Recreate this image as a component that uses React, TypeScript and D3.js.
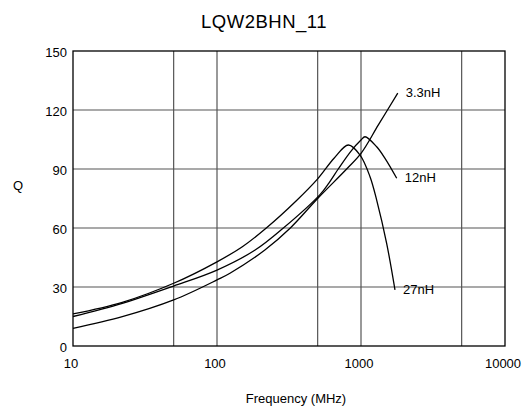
import React, { useEffect, useRef } from 'react'
import * as d3 from 'd3'

// Q vs frequency readings (MHz, Q) taken off the reference chart
const freq27 = [10, 22, 50, 100, 150, 220, 357, 500, 650, 817, 985, 1155, 1285, 1507, 1722]
const q27 = [16.3, 22.2, 31.9, 42.8, 50.5, 60, 74, 85, 95.5, 102.2, 97.1, 86.1, 74.2, 52.2, 28.5]

const freq12 = [10, 22, 50, 100, 184, 289, 519, 600, 695, 850, 1000, 1066, 1285, 1468, 1770]
const q12 = [15.0, 21.7, 30.5, 38.6, 48.8, 60, 77, 83, 90, 99, 104.7, 106.4, 101.3, 95.4, 85.3]

const freq33 = [10, 22, 50, 100, 123, 215, 323, 500, 795, 1000, 1320, 1800]
const q33 = [9.0, 14.9, 23.4, 33.6, 37, 48.8, 60, 75, 90, 97.9, 112.4, 128.6]

const seriesNames = ['3.3nH', '12nH', '27nH']
const seriesFreq = [freq33, freq12, freq27]
const seriesQ = [q33, q12, q27]

const xTicks = [10, 100, 1000, 10000]
const xGrid = [50, 100, 500, 1000, 5000]
const yTicks = [0, 30, 60, 90, 120, 150]
const yGrid = [30, 60, 90, 120]

const width = 522
const height = 407
const font = '"Liberation Sans", Arial, Helvetica, sans-serif'

const App: React.FC = () => {
  const svgRef = useRef<SVGSVGElement>(null)

  useEffect(() => {
    if (!svgRef.current) return
    const svg = d3.select(svgRef.current)
    svg.selectAll('*').remove()

    const margin = { top: 51, right: 17, bottom: 61, left: 73 }
    const x = d3
      .scaleLog()
      .domain([10, 10000])
      .range([margin.left, width - margin.right])
    const y = d3
      .scaleLinear()
      .domain([0, 150])
      .range([height - margin.bottom, margin.top])

    // grid
    svg
      .selectAll('.vgrid')
      .data(xGrid)
      .enter()
      .append('line')
      .attr('x1', (d) => x(d))
      .attr('x2', (d) => x(d))
      .attr('y1', y(0))
      .attr('y2', y(150))
      .attr('stroke', '#555')
      .attr('stroke-width', 1.2)

    svg
      .selectAll('.hgrid')
      .data(yGrid)
      .enter()
      .append('line')
      .attr('x1', x(10))
      .attr('x2', x(10000))
      .attr('y1', (d) => y(d))
      .attr('y2', (d) => y(d))
      .attr('stroke', '#555')
      .attr('stroke-width', 1.2)

    // frame
    svg
      .append('rect')
      .attr('x', x(10))
      .attr('y', y(150))
      .attr('width', x(10000) - x(10))
      .attr('height', y(0) - y(150))
      .attr('fill', 'none')
      .attr('stroke', '#000')
      .attr('stroke-width', 1.3)

    // curves
    const line = d3
      .line<[number, number]>()
      .x((d) => x(d[0]))
      .y((d) => y(d[1]))
      .curve(d3.curveCatmullRom.alpha(0.5))

    seriesNames.forEach((name, i) => {
      const pts: [number, number][] = seriesFreq[i].map((f, j) => [f, seriesQ[i][j]])
      svg
        .append('path')
        .attr('d', line(pts) || '')
        .attr('fill', 'none')
        .attr('stroke', '#000')
        .attr('stroke-width', 1.3)

      const last = pts[pts.length - 1]
      svg
        .append('text')
        .attr('x', x(last[0]) + 8)
        .attr('y', y(last[1]) + 4)
        .style('font-family', font)
        .style('font-size', '13px')
        .attr('fill', '#000')
        .text(name)
    })

    // tick labels
    svg
      .selectAll('.xlab')
      .data(xTicks)
      .enter()
      .append('text')
      .attr('x', (d) => x(d) - 2)
      .attr('y', y(0) + 22)
      .attr('text-anchor', 'middle')
      .style('font-family', font)
      .style('font-size', '13px')
      .text((d) => String(d))

    svg
      .selectAll('.ylab')
      .data(yTicks)
      .enter()
      .append('text')
      .attr('x', margin.left - 6)
      .attr('y', (d) => y(d) + 6)
      .attr('text-anchor', 'end')
      .style('font-family', font)
      .style('font-size', '13px')
      .text((d) => String(d))

    // titles
    svg
      .append('text')
      .attr('x', 264)
      .attr('y', 28)
      .attr('text-anchor', 'middle')
      .style('font-family', font)
      .style('font-size', '18.5px')
      .style('letter-spacing', '0.5px')
      .text('LQW2BHN_11')

    svg
      .append('text')
      .attr('x', 296)
      .attr('y', 403)
      .attr('text-anchor', 'middle')
      .style('font-family', font)
      .style('font-size', '13px')
      .text('Frequency (MHz)')

    svg
      .append('text')
      .attr('x', 18)
      .attr('y', 190)
      .attr('text-anchor', 'middle')
      .style('font-family', font)
      .style('font-size', '13px')
      .text('Q')
  }, [])

  return (
    <svg
      ref={svgRef}
      width={width}
      height={height}
      style={{ position: 'absolute', left: 0, top: 0, background: '#fff' }}
    ></svg>
  )
}

export default App
